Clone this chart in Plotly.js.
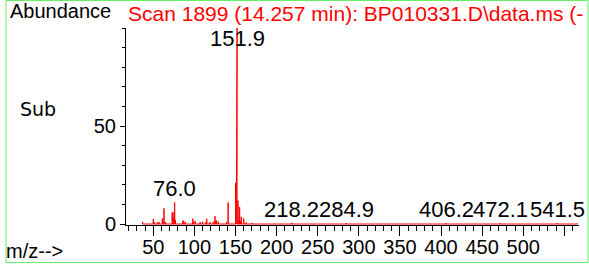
<!DOCTYPE html>
<html>
<head>
<meta charset="utf-8">
<script src="https://cdn.plot.ly/plotly-3.0.1.min.js"></script>
<style>
html,body{margin:0;padding:0;background:#fff;}
#chart{width:589px;height:265px;}
</style>
</head>
<body>
<div id="chart"></div>
<script>
// ---- data ----
var titleText = "Scan 1899 (14.257 min): BP010331.D\\data.ms (-";
var yLabel = "Abundance";
var xLabel = "m/z-->";
var subLabel = "Sub";

var peakMz = [37, 50, 51, 55, 57, 61, 62, 63, 65, 73, 74, 75, 76.0, 77, 86, 87, 89, 98, 99, 101, 107, 110, 114, 115, 119, 123, 125, 126, 127, 129, 139, 141, 150, 151, 151.9, 153, 154, 155, 156, 157, 160, 163, 170, 218.2, 284.9, 406.2, 472.1, 541.5, 566];
var peakAb = [1.0, 2.6, 1.0, 0.8, 1.0, 2.8, 1.5, 8.0, 1.0, 5.8, 6.0, 3.0, 11.0, 2.0, 1.8, 1.5, 1.0, 2.7, 1.2, 1.6, 1.0, 1.2, 1.0, 2.7, 1.0, 1.2, 4.0, 1.5, 1.8, 1.2, 1.0, 11.0, 21.0, 9.0, 100, 12.0, 2.0, 8.6, 1.5, 3.7, 2.8, 0.8, 0.5, 0.6, 0.5, 0.4, 0.4, 0.4, 0.2];

var labelMz = [76.0, 151.9, 218.2, 284.9, 406.2, 472.1, 541.5];

var xTickVals = [50, 100, 150, 200, 250, 300, 350, 400, 450, 500, 550];
var xTickText = ["50", "100", "150", "200", "250", "300", "350", "400", "450", "500", ""];
var yTickVals = [0, 50];
var yTickText = ["0", "50"];

(function () {
  // ---- build stick spectrum as one continuous line ----
  var sx = [], sy = [];
  for (var i = 0; i < peakMz.length; i++) {
    sx.push(peakMz[i], peakMz[i], peakMz[i]);
    sy.push(0, peakAb[i], 0);
  }

  var trace = {
    type: 'scatter', mode: 'lines', x: sx, y: sy,
    line: {color: '#ff0000', width: 1}, hoverinfo: 'skip', showlegend: false
  };

  var L = 126, R = 579, T = 28, B = 225, W = 589, H = 265;
  function px2x(px){ return (px - L) / (R - L); }
  function py2y(py){ return (B - py) / (B - T); }

  var annFont = {family: 'Liberation Sans, Arial, sans-serif', size: 22, color: '#000'};
  var annotations = [];
  for (var j = 0; j < labelMz.length; j++) {
    var m = labelMz[j];
    var idx = peakMz.indexOf(m);
    var h = peakAb[idx];
    var atTop = h > 90;
    annotations.push({
      x: m, y: atTop ? 100 : h, xref: 'x', yref: 'y',
      text: m.toFixed(1), showarrow: false,
      xanchor: 'center', yanchor: atTop ? 'top' : 'bottom',
      yshift: atTop ? 3 : 0,
      font: annFont, borderpad: 0
    });
  }
  annotations.push({
    x: px2x(8), y: py2y(11), xref: 'paper', yref: 'paper', text: yLabel,
    showarrow: false, xanchor: 'left', yanchor: 'middle',
    font: {family: 'Liberation Sans, Arial, sans-serif', size: 20, color: '#000'}
  });
  annotations.push({
    x: px2x(18), y: py2y(109), xref: 'paper', yref: 'paper', text: subLabel,
    showarrow: false, xanchor: 'left', yanchor: 'middle',
    font: {family: 'DejaVu Sans, sans-serif', size: 19, color: '#000'}
  });
  annotations.push({
    x: px2x(4), y: py2y(251), xref: 'paper', yref: 'paper', text: xLabel,
    showarrow: false, xanchor: 'left', yanchor: 'middle',
    font: {family: 'Liberation Sans, Arial, sans-serif', size: 20, color: '#000'}
  });

  var tickFont = {family: 'Liberation Sans Narrow, Arial Narrow, Liberation Sans, sans-serif', size: 20, color: '#000'};

  var layout = {
    width: W, height: H,
    margin: {l: L, r: W - R, t: T, b: H - B, pad: 0},
    paper_bgcolor: '#fff', plot_bgcolor: '#fff',
    showlegend: false,
    title: {
      text: titleText, x: 128 / W, xanchor: 'left', xref: 'container',
      y: 1 - 14 / H, yanchor: 'middle', yref: 'container',
      font: {family: 'Liberation Sans, Arial, sans-serif', size: 21, color: '#ff0000'}
    },
    xaxis: {
      range: [16.8, 567.8], showgrid: false, zeroline: false,
      showline: true, linecolor: '#000', linewidth: 1,
      tickmode: 'array', tickvals: xTickVals, ticktext: xTickText,
      ticks: 'outside', ticklen: 10, tickcolor: '#000', tickwidth: 1,
      tickfont: tickFont, ticklabelstandoff: -6,
      minor: {tickmode: 'linear', tick0: 0, dtick: 10, ticks: 'outside', ticklen: 5, tickcolor: '#000', tickwidth: 1}
    },
    yaxis: {
      range: [-0.5, 100], showgrid: false, zeroline: false,
      showline: true, linecolor: '#000', linewidth: 1,
      tickmode: 'array', tickvals: yTickVals, ticktext: yTickText,
      ticks: 'outside', ticklen: 5, tickcolor: '#000', tickwidth: 1,
      tickfont: tickFont,
      minor: {tickmode: 'linear', tick0: 0, dtick: 10, ticks: 'outside', ticklen: 3, tickcolor: '#000', tickwidth: 1}
    },
    annotations: annotations,
    shapes: [{
      type: 'rect', xref: 'paper', yref: 'paper',
      x0: px2x(6), x1: px2x(588), y0: py2y(262.5), y1: py2y(0.5),
      line: {color: '#66ee66', width: 1}, fillcolor: 'rgba(0,0,0,0)', layer: 'above'
    }]
  };

  Plotly.newPlot('chart', [trace], layout, {displayModeBar: false, staticPlot: true});
})();
</script>
</body>
</html>
